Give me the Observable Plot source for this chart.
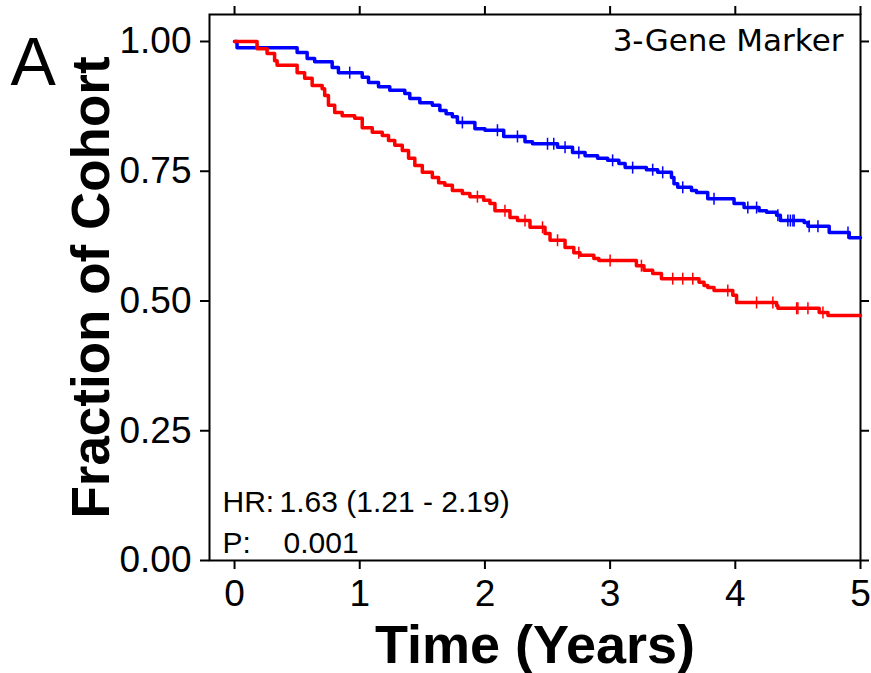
<!DOCTYPE html>
<html>
<head>
<meta charset="utf-8">
<script src="https://cdn.jsdelivr.net/npm/d3@7"></script>
<script src="https://cdn.jsdelivr.net/npm/@observablehq/plot@0.6"></script>
<style>
  html, body { margin: 0; padding: 0; background: #fff; }
  #chart { width: 871px; height: 673px; }
</style>
</head>
<body>
<div id="chart"></div>
<script>
// Kaplan–Meier steps: [time (years), fraction surviving]
const blueSteps = [
  [0.00,1.000],[0.02,0.988],[0.50,0.979],[0.58,0.967],[0.64,0.961],[0.78,0.950],[0.83,0.940],
  [1.02,0.931],[1.07,0.921],[1.15,0.913],[1.24,0.906],[1.36,0.900],[1.40,0.890],[1.48,0.882],
  [1.58,0.877],[1.64,0.867],[1.69,0.861],[1.74,0.855],[1.78,0.844],[1.92,0.832],[2.00,0.829],
  [2.15,0.817],[2.32,0.807],[2.38,0.803],[2.58,0.796],[2.70,0.786],[2.80,0.780],[2.90,0.775],
  [2.98,0.771],[3.07,0.765],[3.12,0.757],[3.29,0.753],[3.38,0.748],[3.49,0.738],[3.51,0.726],
  [3.54,0.719],[3.65,0.713],[3.69,0.709],[3.78,0.697],[3.99,0.688],[4.07,0.680],[4.19,0.674],
  [4.25,0.671],[4.33,0.665],[4.36,0.655],[4.55,0.651],[4.58,0.644],[4.75,0.632],[4.91,0.622]
];
const redSteps = [
  [0.00,1.000],[0.18,0.986],[0.26,0.977],[0.32,0.963],[0.34,0.954],[0.50,0.940],[0.56,0.929],
  [0.62,0.915],[0.70,0.909],[0.72,0.896],[0.75,0.877],[0.80,0.863],[0.86,0.857],[0.96,0.852],
  [1.02,0.834],[1.10,0.825],[1.18,0.819],[1.23,0.809],[1.28,0.800],[1.34,0.790],[1.39,0.775],
  [1.44,0.761],[1.50,0.748],[1.58,0.738],[1.63,0.728],[1.68,0.723],[1.74,0.713],[1.82,0.707],
  [1.88,0.701],[1.99,0.694],[2.04,0.688],[2.08,0.674],[2.20,0.661],[2.26,0.655],[2.36,0.642],
  [2.48,0.630],[2.52,0.617],[2.64,0.603],[2.71,0.593],[2.76,0.588],[2.87,0.582],[2.91,0.578],
  [3.21,0.568],[3.27,0.559],[3.34,0.553],[3.41,0.543],[3.71,0.536],[3.75,0.530],[3.78,0.526],
  [3.83,0.520],[3.98,0.511],[4.01,0.497],[4.33,0.491],[4.34,0.486],[4.67,0.478],[4.74,0.472]
];
const followUpEnd = 5.0;
// censoring times (years)
const blueCensored = [0.92,1.82,2.10,2.26,2.50,2.55,2.64,2.75,3.02,3.18,3.34,3.42,3.58,3.83,
  4.10,4.17,4.34,4.42,4.44,4.46,4.47,4.59,4.66,4.90];
const redCensored = [1.94,2.16,2.32,2.46,2.58,2.75,3.00,3.25,3.50,3.58,3.66,3.94,4.17,4.30,
  4.49,4.50,4.58,4.70];

const xTicks = [0,1,2,3,4,5];
const yTicks = [0,0.25,0.5,0.75,1];
const panelLabel = "A";
const markerName = "3-Gene Marker";
const hrLabel = "HR:";
const hrValue = "1.63 (1.21 - 2.19)";
const pLabel = "P:";
const pValue = "0.001";
const xTitle = "Time (Years)";
const yTitle = "Fraction of Cohort";
const colors = {blue: "#0000ff", red: "#ff0000"};

function toRows(steps, group) {
  const rows = steps.map(([t, s]) => ({t, s, group}));
  rows.push({t: followUpEnd, s: steps[steps.length - 1][1], group});
  return rows;
}
function survAt(steps, t) {
  let s = steps[0][1];
  for (const [ti, si] of steps) { if (ti <= t) s = si; else break; }
  return s;
}
const curves = [...toRows(blueSteps, "blue"), ...toRows(redSteps, "red")];
const censors = [
  ...blueCensored.map(t => ({t, s: survAt(blueSteps, t), group: "blue"})),
  ...redCensored.map(t => ({t, s: survAt(redSteps, t), group: "red"}))
];

const vline = {
  draw(context, size) {
    const r = Math.sqrt(size / Math.PI);
    context.moveTo(0, -r);
    context.lineTo(0, r);
  }
};

const statText = (txt, dx, dy) => Plot.text([txt], {text: d => d, frameAnchor: "bottom-left", textAnchor: "start", lineAnchor: "middle", dx, dy, fontSize: 30, fill: "#000"});

const chart = Plot.plot({
  width: 871,
  height: 673,
  marginLeft: 209,
  marginRight: 11,
  marginTop: 14,
  marginBottom: 113,
  style: {fontFamily: "'Liberation Sans', Arial, sans-serif", background: "#fff", color: "#000", overflow: "visible"},
  x: {domain: [-0.2, 5], label: null},
  y: {domain: [0, 1.052], label: null},
  color: {domain: ["blue", "red"], range: [colors.blue, colors.red]},
  marks: [
    Plot.frame({stroke: "#000", strokeWidth: 2}),
    Plot.axisX({anchor: "bottom", ticks: xTicks, tickFormat: d => String(d), tickSize: 9, tickPadding: 10, fontSize: 37, strokeWidth: 2, label: null}),
    Plot.axisX({anchor: "top", ticks: xTicks, tickFormat: () => "", tickSize: 9, strokeWidth: 2, label: null}),
    Plot.axisY({anchor: "left", ticks: yTicks, tickFormat: d3.format(".2f"), tickSize: 9, tickPadding: 9, fontSize: 37, strokeWidth: 2, label: null}),
    Plot.axisY({anchor: "right", ticks: yTicks, tickFormat: () => "", tickSize: 8, strokeWidth: 2, label: null}),
    Plot.line(curves, {x: "t", y: "s", z: "group", stroke: "group", strokeWidth: 3.5, curve: "step-after"}),
    Plot.dot(censors, {x: "t", y: "s", stroke: "group", symbol: vline, r: 6, strokeWidth: 1.5}),
    Plot.text([markerName], {text: d => d, frameAnchor: "top-right", textAnchor: "end", lineAnchor: "middle", dx: -17, dy: 27, fontSize: 31, fontFamily: "'DejaVu Sans', Verdana, sans-serif", fill: "#000"}),
    statText(hrLabel, 13, -58),
    statText(hrValue, 70, -58),
    statText(pLabel, 13, -17),
    statText(pValue, 74, -17),
    Plot.text([xTitle], {text: d => d, frameAnchor: "bottom", textAnchor: "middle", lineAnchor: "middle", dy: 85, fontSize: 54, fontWeight: "bold", fill: "#000"}),
    Plot.text([yTitle], {text: d => d, frameAnchor: "left", textAnchor: "middle", lineAnchor: "middle", rotate: -90, dx: -117, fontSize: 53, fontWeight: "bold", fill: "#000"}),
    Plot.text([panelLabel], {text: d => d, frameAnchor: "top-left", textAnchor: "start", lineAnchor: "middle", dx: -199, dy: 49, fontSize: 68, fill: "#000"})
  ]
});
document.getElementById("chart").appendChild(chart);
</script>
</body>
</html>
